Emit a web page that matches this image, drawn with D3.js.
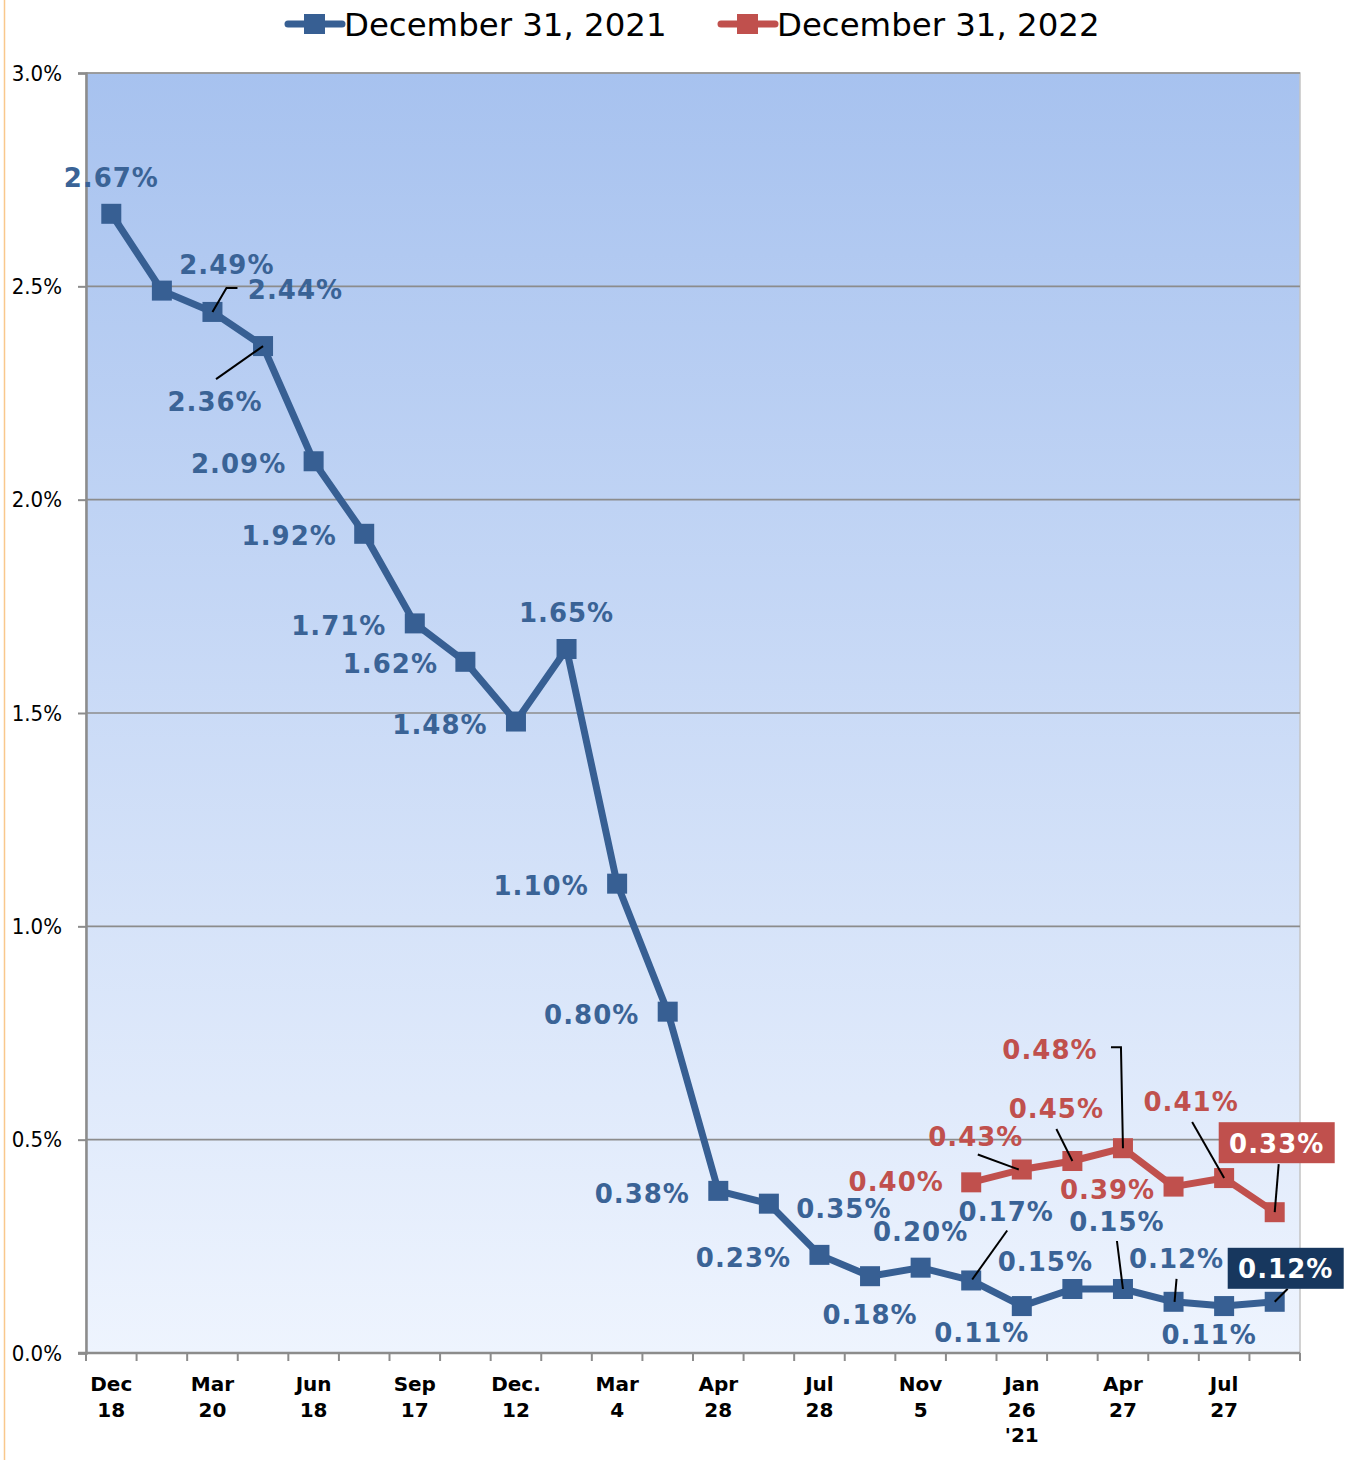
<!DOCTYPE html>
<html>
<head>
<meta charset="utf-8">
<script src="https://cdn.jsdelivr.net/npm/d3@7"></script>
<style>
  body { margin: 0; background: #fff; }
  svg { display: block; }
</style>
</head>
<body>
<div id="chart"></div>
<script>
"use strict";

// x categories (only every second one carries a label)
const tickLabels = [
    ["Dec", "18"], null, ["Mar", "20"], null, ["Jun", "18"], null,
    ["Sep", "17"], null, ["Dec.", "12"], null, ["Mar", "4"], null,
    ["Apr", "28"], null, ["Jul", "28"], null, ["Nov", "5"], null,
    ["Jan", "26", "'21"], null, ["Apr", "27"], null, ["Jul", "27"], null
];

const seriesNames = ["December 31, 2021", "December 31, 2022"];

// percent values
const values2021 = [2.67, 2.49, 2.44, 2.36, 2.09, 1.92, 1.71, 1.62, 1.48, 1.65, 1.10, 0.80,
    0.38, 0.35, 0.23, 0.18, 0.20, 0.17, 0.11, 0.15, 0.15, 0.12, 0.11, 0.12];
const values2022 = [null, null, null, null, null, null, null, null, null, null, null, null,
    null, null, null, null, null, 0.40, 0.43, 0.45, 0.48, 0.39, 0.41, 0.33];

const yTicks = [0, 0.5, 1.0, 1.5, 2.0, 2.5, 3.0];

// label placement, relative to the point (dx, dy of label centre)
const labelOffsets2021 = [[0, -36], [65, -26], [83, -22], [-48, 56], [-75, 2], [-75, 2], [-76, 2], [-75, 2],
    [-76, 3], [0, -36], [-76, 2], [-76, 3], [-76, 3], [75, 5], [-76, 3], [0, 38], [0, -36], [35, -69],
    [-40, 27], [-27, -27], [-6, -67], [3, -43], [-15, 29], [11, -33]];
const labelOffsets2022 = {17: [-75, -1], 18: [-46, -33], 19: [-16, -52], 20: [-73, -99],
    21: [-66, 3], 22: [-33, -76], 23: [2, -69]};

const leaders2021 = {2: [[0, 0], [14, -24], [25, -24]], 3: [[0, 0], [-47, 33]], 17: [[1, -1], [36, -50]],
    20: [[0, 0], [-6, -48]], 21: [[1, 0], [3, -23]], 23: [[0, 0], [13, -13]]};
const leaders2022 = {18: [[-3, 0], [-44, -15]], 19: [[0, 0], [-16, -32]], 20: [[0, 0], [-2, -101], [-12, -101]],
    22: [[0, 0], [-32, -56]], 23: [[0, 0], [4, -48]]};

const boxed2021 = 23;
const boxed2022 = 23;

const plot = {
    width: 1351,
    height: 1460,
    left: 86,
    right: 1300,
    top: 73,
    bottom: 1353
}

const blue = "#375f93";
const blueText = "#3a6396";
const red = "#c0504d";
const labelFont = "'DejaVu Sans', Verdana, sans-serif";
const axisFont = "'DejaVu Sans Condensed', 'DejaVu Sans', sans-serif";

let svg = d3.select("#chart").append("svg")
    .attr("width", plot.width)
    .attr("height", plot.height);

let defs = svg.append("defs");
let grad = defs.append("linearGradient")
    .attr("id", "bg")
    .attr("x1", 0).attr("y1", 0).attr("x2", 0).attr("y2", 1);
grad.append("stop").attr("offset", "0%").attr("stop-color", "#a7c2ef");
grad.append("stop").attr("offset", "100%").attr("stop-color", "#eef4fe");

// thin orange line on the far left
svg.append("line")
    .attr("x1", 4.5).attr("x2", 4.5)
    .attr("y1", 0).attr("y2", plot.height)
    .attr("stroke", "#f9c88c")
    .attr("stroke-width", 1.5);

let xScale = d3.scaleBand()
    .domain(d3.range(tickLabels.length))
    .range([plot.left, plot.right])
    .paddingInner(0)
    .paddingOuter(0);

let yScale = d3.scaleLinear()
    .domain([0, 3.0])
    .range([plot.bottom, plot.top]);

let xPos = (i) => xScale(i) + xScale.bandwidth() / 2;

// plot area
svg.append("rect")
    .attr("x", plot.left)
    .attr("y", plot.top)
    .attr("width", plot.right - plot.left)
    .attr("height", plot.bottom - plot.top)
    .attr("fill", "url(#bg)")
    .attr("stroke", "#c4c4c4")
    .attr("stroke-width", 1.5);

// gridlines
svg.selectAll(".grid")
    .data(yTicks.filter((d) => d > 0))
    .enter()
    .append("line")
    .attr("x1", plot.left)
    .attr("x2", plot.right)
    .attr("y1", (d) => yScale(d))
    .attr("y2", (d) => yScale(d))
    .attr("stroke", "#8c8c8c")
    .attr("stroke-width", 1.6);

// y axis
let yAxis = d3.axisLeft(yScale)
    .tickValues(yTicks)
    .tickSize(8)
    .tickPadding(16)
    .tickFormat((d) => d.toFixed(1) + "%");
let yG = svg.append("g")
    .attr("transform", "translate(" + plot.left + ",0)")
    .call(yAxis);
yG.select(".domain").attr("stroke", "#8c8c8c").attr("stroke-width", 2.5);
yG.selectAll(".tick line").attr("stroke", "#8c8c8c").attr("stroke-width", 2);
yG.selectAll(".tick text")
    .style("font-family", axisFont)
    .style("font-size", "22px")
    .attr("fill", "#000");

// x axis, ticks on category boundaries
let bounds = d3.range(tickLabels.length + 1).map((i) => plot.left + i * xScale.step());
let xG = svg.append("g");
xG.append("line")
    .attr("x1", plot.left - 8).attr("x2", plot.right)
    .attr("y1", plot.bottom).attr("y2", plot.bottom)
    .attr("stroke", "#8c8c8c")
    .attr("stroke-width", 2.5);
xG.selectAll(".xt")
    .data(bounds)
    .enter()
    .append("line")
    .attr("x1", (d) => d).attr("x2", (d) => d)
    .attr("y1", plot.bottom).attr("y2", plot.bottom + 8)
    .attr("stroke", "#8c8c8c")
    .attr("stroke-width", 2);

let xLab = xG.selectAll(".xl")
    .data(tickLabels.map((t, i) => ({t: t, i: i})).filter((d) => d.t))
    .enter()
    .append("text")
    .attr("x", (d) => xPos(d.i))
    .attr("y", plot.bottom + 38)
    .attr("text-anchor", "middle")
    .attr("font-family", labelFont)
    .attr("font-weight", "bold")
    .attr("font-size", "20px")
    .attr("fill", "#000");
xLab.selectAll("tspan")
    .data((d) => d.t.map((s) => ({s: s, x: xPos(d.i)})))
    .enter()
    .append("tspan")
    .attr("x", (d) => d.x)
    .attr("dy", (d, k) => k == 0 ? 0 : 25.5)
    .text((d) => d.s);

// series
function drawSeries(vals, color) {
    let pts = vals.map((v, i) => ({v: v, i: i})).filter((d) => d.v != null);
    svg.append("path")
        .datum(pts)
        .attr("fill", "none")
        .attr("stroke", color)
        .attr("stroke-width", 7)
        .attr("stroke-linejoin", "round")
        .attr("d", d3.line()
            .x((d) => xPos(d.i))
            .y((d) => yScale(d.v)));
    svg.selectAll(null)
        .data(pts)
        .enter()
        .append("rect")
        .attr("x", (d) => xPos(d.i) - 10)
        .attr("y", (d) => yScale(d.v) - 10)
        .attr("width", 20)
        .attr("height", 20)
        .attr("fill", color);
    return pts;
}

let pts2021 = drawSeries(values2021, blue);
let pts2022 = drawSeries(values2022, red);

function drawLeaders(pts, leaders) {
    pts.filter((d) => leaders[d.i]).forEach((d) => {
        let px = xPos(d.i), py = yScale(d.v);
        svg.append("polyline")
            .attr("points", leaders[d.i].map((p) => (px + p[0]) + "," + (py + p[1])).join(" "))
            .attr("fill", "none")
            .attr("stroke", "#000")
            .attr("stroke-width", 2);
    });
}
drawLeaders(pts2021, leaders2021);
drawLeaders(pts2022, leaders2022);

function drawLabels(pts, offsets, textColor, boxIndex, boxColor) {
    pts.forEach((d) => {
        let off = offsets[d.i];
        let cx = xPos(d.i) + off[0], cy = yScale(d.v) + off[1];
        let boxed = d.i == boxIndex;
        if (boxed) {
            svg.append("rect")
                .attr("x", cx - 58)
                .attr("y", cy - 21)
                .attr("width", 116)
                .attr("height", 41)
                .attr("fill", boxColor);
        }
        svg.append("text")
            .attr("x", cx)
            .attr("y", cy)
            .attr("dy", "0.36em")
            .attr("text-anchor", "middle")
            .attr("font-family", labelFont)
            .attr("font-weight", "bold")
            .attr("font-size", "26px")
            .attr("letter-spacing", "1px")
            .attr("fill", boxed ? "#fff" : textColor)
            .text(d.v.toFixed(2) + "%");
    });
}
drawLabels(pts2021, labelOffsets2021, blueText, boxed2021, "#17375e");
drawLabels(pts2022, labelOffsets2022, red, boxed2022, red);

// legend
const legendX = [285, 718];
const legendColors = [blue, red];
let leg = svg.selectAll(".legend")
    .data(seriesNames)
    .enter()
    .append("g")
    .attr("transform", (d, i) => "translate(" + legendX[i] + ",24)");
leg.append("line")
    .attr("x1", 3).attr("x2", 57)
    .attr("y1", 0).attr("y2", 0)
    .attr("stroke", (d, i) => legendColors[i])
    .attr("stroke-width", 7)
    .attr("stroke-linecap", "round");
leg.append("rect")
    .attr("x", 19).attr("y", -10)
    .attr("width", 21).attr("height", 20)
    .attr("fill", (d, i) => legendColors[i]);
leg.append("text")
    .attr("x", 59)
    .attr("y", 12)
    .attr("font-family", labelFont)
    .attr("font-size", "32.4px")
    .attr("fill", "#000")
    .text((d) => d);
</script>
</body>
</html>
